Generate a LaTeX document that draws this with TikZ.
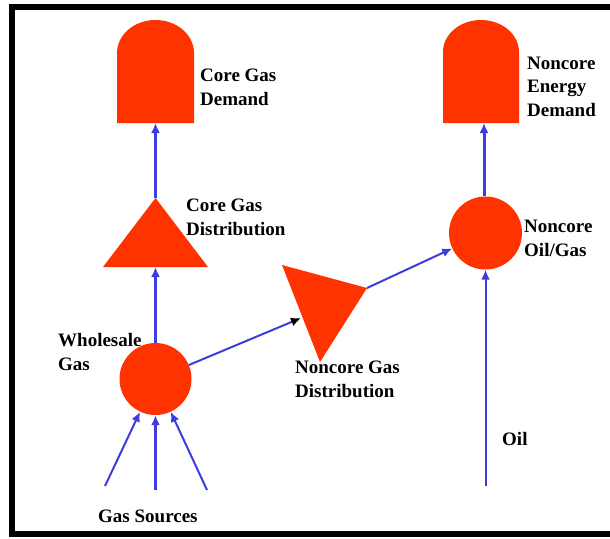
\documentclass[tikz,border=0pt]{standalone}
\usepackage{fontspec}
\setmainfont{Liberation Serif}
\usetikzlibrary{arrows.meta}
\definecolor{shapered}{RGB}{255,51,0}
\definecolor{flowblue}{RGB}{60,60,225}
\begin{document}
\begin{tikzpicture}[x=1pt,y=-1pt,
  lbl/.style={anchor=base west, align=left, inner sep=0pt, font=\bfseries\fontsize{19}{23.5}\selectfont},
  flow/.style={draw=flowblue, line width=3pt, -{Latex[length=10pt,width=9pt]}},
  thinflow/.style={draw=flowblue, line width=2pt, -{Latex[length=10pt,width=9pt]}},
  unit/.style={circle, fill=shapered, inner sep=0pt, minimum size=72pt}]
\useasboundingbox (0,0) rectangle (610,538);
\begin{scope}
\clip (0,0) rectangle (610,538);
\draw[line width=6pt] (12,7) rectangle (640,534);
\end{scope}
% demand shapes
\fill[shapered] (117,123) -- (117,53) .. controls (117,34.8) and (134.2,20) .. (155.5,20)
  .. controls (176.8,20) and (194,34.8) .. (194,53) -- (194,123) -- cycle;
\coordinate (cdB) at (155.5,123);
\fill[shapered] (443,123) -- (443,52) .. controls (443,34.3) and (460,20) .. (481,20)
  .. controls (502,20) and (519,34.3) .. (519,52) -- (519,123) -- cycle;
\coordinate (ndB) at (484,123);
% triangles
\fill[shapered] (103,267) -- (155.5,198) -- (208,267) -- cycle;
\coordinate (cdTop) at (155.5,198);
\coordinate (cdBase) at (155.5,267);
\fill[shapered] (282,265) -- (367,288) -- (320,362) -- cycle;
\coordinate (ncdIn) at (301,318);
\coordinate (ncdOut) at (367,288);
% circles
\node[unit] (wg) at (155.5,379) {};
\node[unit, minimum size=73pt] (nog) at (485.5,233) {};
% sources
\coordinate (gs1) at (105,486);
\coordinate (gs2) at (155.5,490);
\coordinate (gs3) at (207,490);
\coordinate (oil) at (485.5,486);
% connectors
\draw[thinflow] (gs1) -- (wg);
\draw[flow] (gs2) -- (wg.south);
\draw[thinflow] (gs3) -- (wg);
\draw[flow] (wg.north) -- (cdBase);
\draw[flow] (cdTop) -- (cdB);
\draw[draw=flowblue, line width=2pt, -{Latex[length=10pt,width=9pt,color=black]}] (wg) -- (ncdIn);
\draw[thinflow] (ncdOut) -- (nog);
\draw[thinflow] (oil) -- (nog.south);
\draw[flow] (nog.north -| ndB) -- (ndB);
% labels (base anchor = baseline of last line)
\node[lbl] (l1) at (200,105) {Core Gas\\Demand};
\node[lbl] (l2) at (186,235) {Core Gas\\Distribution};
\node[lbl] (l3) at (58,370) {Wholesale\\Gas};
\node[lbl] (l4) at (295,397) {Noncore Gas\\Distribution};
\node[lbl] (l5) at (527,116) {Noncore\\Energy\\Demand};
\node[lbl] (l6) at (524,256) {Noncore\\Oil/Gas};
\node[lbl] (l7) at (502,445) {Oil};
\node[lbl] (l8) at (98,522) {Gas Sources};
\end{tikzpicture}
\end{document}
